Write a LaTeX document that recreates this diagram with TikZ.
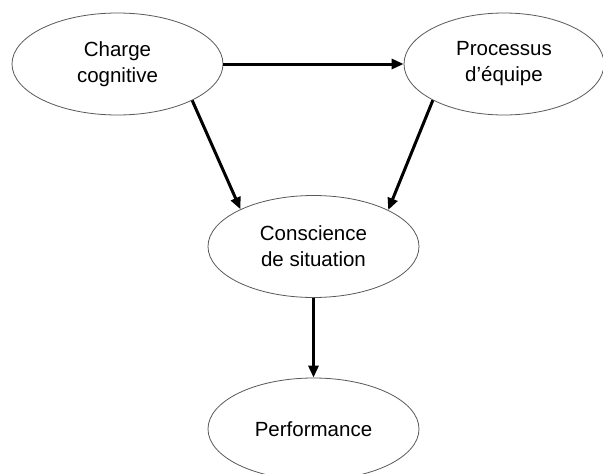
\documentclass[tikz,border=0pt]{standalone}
\usepackage{fontspec}
\setmainfont{Liberation Sans}
\usetikzlibrary{shapes.geometric,arrows.meta}
\tikzset{
  blob/.style={ellipse, draw=black!65, line width=0.8pt, fill=white, inner sep=0pt,
    minimum width=211pt, minimum height=102pt, align=center,
    font=\fontsize{20.5}{26}\selectfont},
  link/.style={-{Triangle[length=12pt,width=10pt]}, line width=3pt, black}
}
\begin{document}
\begin{tikzpicture}[x=1pt,y=-1pt]
\path[use as bounding box, clip] (0,0) rectangle (603,474);
\fill[white] (0,0) rectangle (603,474);
\node[blob] (cc) at (117.5,64) {Charge\\cognitive};
\node[blob, minimum width=200pt] (pe) at (504,64) {Processus\\d’équipe};
\node[blob] (cs) at (313.5,246.5) {Conscience\\de situation};
\node[blob] (pf) at (313.5,429) {Performance};
\draw[link] (cc.east) -- (pe.west |- cc.east);
\draw[link] (cc.-26) -- (cs.153.5);
\draw[link] (pe.-153.5) -- (cs.26.7);
\draw[link] (cs.south) -- (pf.north);
\end{tikzpicture}
\end{document}
